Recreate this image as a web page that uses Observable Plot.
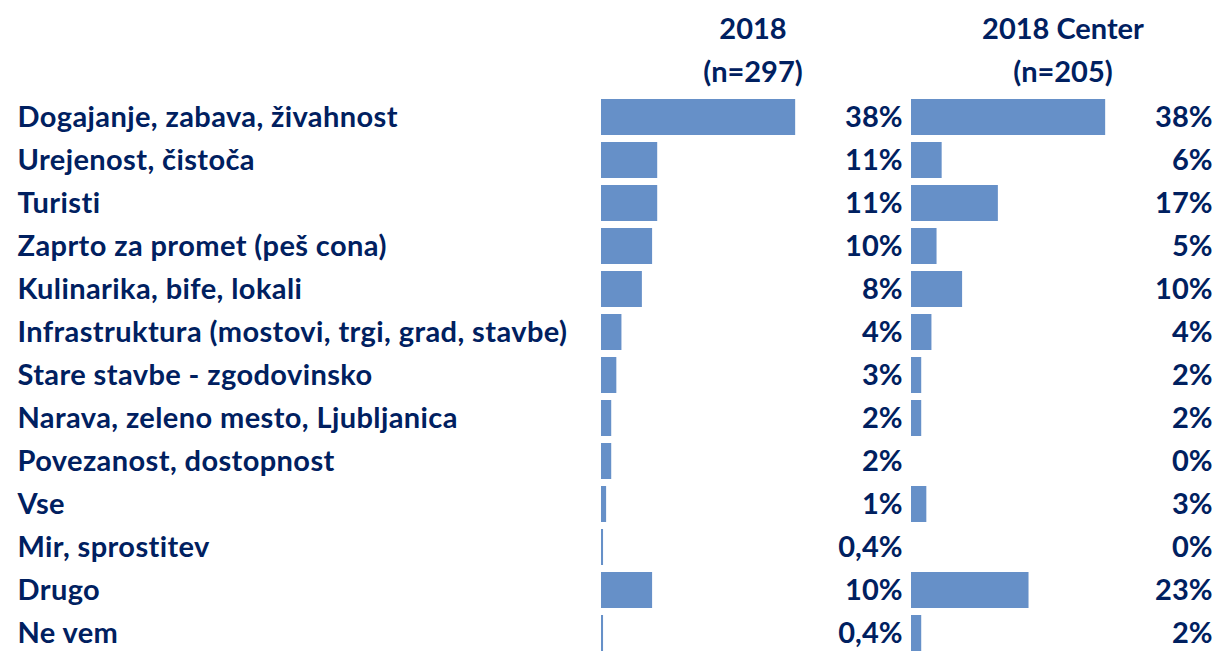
<!DOCTYPE html>
<html>
<head>
<meta charset="utf-8">
<script src="https://cdn.jsdelivr.net/npm/d3@7"></script>
<script src="https://cdn.jsdelivr.net/npm/@observablehq/plot@0.6"></script>
<style>
  html, body { margin: 0; padding: 0; background: #fff; }
  g[aria-label="y-axis tick label"] text { letter-spacing: 0.4px; }
</style>
</head>
<body>
<div id="chart"></div>
<script>
const categories = [
  "Dogajanje, zabava, živahnost",
  "Urejenost, čistoča",
  "Turisti",
  "Zaprto za promet (peš cona)",
  "Kulinarika, bife, lokali",
  "Infrastruktura (mostovi, trgi, grad, stavbe)",
  "Stare stavbe - zgodovinsko",
  "Narava, zeleno mesto, Ljubljanica",
  "Povezanost, dostopnost",
  "Vse",
  "Mir, sprostitev",
  "Drugo",
  "Ne vem"
];
const values2018 = [38, 11, 11, 10, 8, 4, 3, 2, 2, 1, 0.4, 10, 0.4];
const valuesCenter = [38, 6, 17, 5, 10, 4, 2, 2, 0, 3, 0, 23, 2];
const panels = ["2018", "2018 Center"];
const headerLabels = ["2018\n(n=297)", "2018 Center\n(n=205)"];

const rows = [];
categories.forEach((c, i) => {
  rows.push({panel: panels[0], category: c, value: values2018[i]});
  rows.push({panel: panels[1], category: c, value: valuesCenter[i]});
});
const headerOf = new Map(panels.map((p, i) => [p, headerLabels[i]]));
const fmt = v => String(v).replace(".", ",") + "%";

const navy = "#002060";
const barColor = "#6690C8";
const fs = 29;

const chart = Plot.plot({
  width: 1220,
  height: 651,
  marginLeft: 601,
  marginRight: 5,
  marginTop: 97,
  marginBottom: -2,
  style: {fontFamily: "Lato, 'Noto Sans', sans-serif", fontSize: fs + "px", fontWeight: "bold", color: navy, background: "#fff"},
  fx: {domain: panels, paddingInner: 0.0225, paddingOuter: 0, label: null},
  x: {domain: [0, 59.3], axis: null},
  y: {domain: categories, paddingInner: 0.157, paddingOuter: 0, label: null},
  marks: [
    Plot.barX(rows.filter(d => d.value > 0), {fx: "panel", y: "category", x: "value", fill: barColor}),
    Plot.text(rows, {fx: "panel", y: "category", text: d => fmt(d.value), frameAnchor: "right", textAnchor: "end", dx: -2, fill: navy, fontSize: fs, fontWeight: "bold"}),
    Plot.axisY({anchor: "left", tickSize: 0, tickPadding: 584, textAnchor: "start", label: null, fill: navy, fontSize: fs, fontWeight: "bold"}),
    Plot.axisFx({anchor: "top", tickSize: 0, tickPadding: 16, label: null, tickFormat: d => headerOf.get(d), lineHeight: 1.45, fill: navy, fontSize: fs, fontWeight: "bold"})
  ]
});
document.getElementById("chart").appendChild(chart);
</script>
</body>
</html>
